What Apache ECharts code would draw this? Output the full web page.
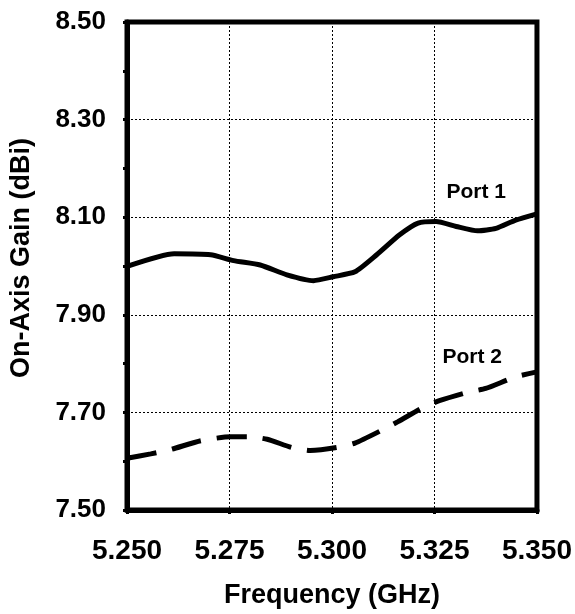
<!DOCTYPE html>
<html><head><meta charset="utf-8">
<script src="https://cdn.jsdelivr.net/npm/echarts@6/dist/echarts.min.js"></script>
<style>html,body{margin:0;padding:0;background:#fff}#c{width:575px;height:614px}</style>
</head><body><div id="c"></div>
<script>
const freqPort1 = [5.250,5.2615,5.2704,5.276,5.2825,5.289,5.2955,5.3003,5.3056,5.3109,5.3165,5.321,5.3254,5.3303,5.3355,5.340,5.3448,5.350];
const gainPort1 = [7.999,8.025,8.023,8.011,8.002,7.982,7.970,7.978,7.988,8.023,8.064,8.088,8.091,8.081,8.072,8.077,8.094,8.107];
const freqPort2 = [5.250,5.2558,5.2607,5.268,5.2752,5.2797,5.2842,5.2902,5.2947,5.3011,5.3056,5.3125,5.3161,5.3222,5.3262,5.3335,5.3375,5.3448,5.350];
const gainPort2 = [7.606,7.615,7.624,7.642,7.650,7.650,7.645,7.628,7.622,7.628,7.637,7.665,7.681,7.710,7.724,7.742,7.749,7.773,7.783];
const yGridValues = [7.7,7.9,8.1,8.3];
const seriesNames = ['Port 1','Port 2'];
const labelPos = [[5.3352,8.152],[5.3342,7.814]];
const xTitle = 'Frequency (GHz)';
const yTitle = 'On-Axis Gain (dBi)';

const FONT = "'Liberation Sans', Arial, sans-serif";
const zip = (a,b)=>a.map((v,i)=>[v,b[i]]);
const chart = echarts.init(document.getElementById('c'), null, {renderer:'canvas'});
chart.setOption({
  animation:false,
  backgroundColor:'#fff',
  grid:{left:126,right:37,top:22,bottom:104,show:true,borderColor:'#000',borderWidth:5,backgroundColor:'transparent'},
  xAxis:{
    type:'value',min:5.25,max:5.35,interval:0.025,
    name:xTitle,nameLocation:'middle',nameGap:72,
    nameTextStyle:{fontFamily:FONT,fontWeight:'bold',fontSize:27,color:'#000'},
    axisLine:{show:true,lineStyle:{color:'#000',width:5}},
    axisTick:{show:true,length:4,lineStyle:{color:'#000',width:3}},
    axisLabel:{margin:27,fontFamily:FONT,fontWeight:'bold',fontSize:28,color:'#000',formatter:v=>v.toFixed(3)},
    splitLine:{show:true,lineStyle:{color:'#000',width:1,type:[2,2]}}
  },
  yAxis:{
    type:'value',min:7.5,max:8.5,interval:0.1,
    name:yTitle,nameLocation:'middle',nameGap:92,
    nameTextStyle:{fontFamily:FONT,fontWeight:'bold',fontSize:27,color:'#000',padding:[0,0,0,16]},
    axisLine:{show:true,lineStyle:{color:'#000',width:5}},
    axisTick:{show:true,length:4,lineStyle:{color:'#000',width:3}},
    axisLabel:{margin:21,fontFamily:FONT,fontWeight:'bold',fontSize:26,color:'#000',
      formatter:v=>(Math.round(v*10)%2===1)?v.toFixed(2):''},
    splitLine:{show:false}
  },
  series:[
    {name:seriesNames[0],type:'line',data:zip(freqPort1,gainPort1),smooth:0.2,showSymbol:false,
     lineStyle:{color:'#000',width:5},
     markLine:{silent:true,symbol:'none',label:{show:false},
       lineStyle:{color:'#000',width:1,type:[2,2]},
       data:yGridValues.map(v=>({yAxis:v}))},
     markPoint:{symbol:'circle',symbolSize:0,
       label:{show:true,formatter:seriesNames[0],fontFamily:FONT,fontWeight:'bold',fontSize:21,color:'#000'},
       data:[{coord:labelPos[0]}]}},
    {name:seriesNames[1],type:'line',data:zip(freqPort2,gainPort2),smooth:0.2,showSymbol:false,
     lineStyle:{color:'#000',width:5,type:[30,16]},
     markPoint:{symbol:'circle',symbolSize:0,
       label:{show:true,formatter:seriesNames[1],fontFamily:FONT,fontWeight:'bold',fontSize:21,color:'#000'},
       data:[{coord:labelPos[1]}]}}
  ]
});
</script></body></html>
